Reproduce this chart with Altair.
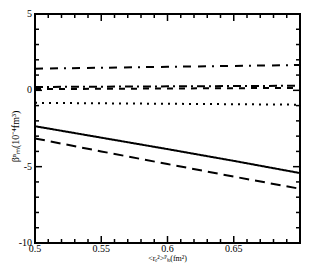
import altair as alt
import pandas as pd

# ---- data ----
x_vals = [0.5, 0.55, 0.6, 0.65, 0.7]
solid = [-2.35, -3.1, -3.85, -4.62, -5.42]
dashed = [-3.15, -4.0, -4.83, -5.65, -6.45]
dotted = [-0.82, -0.85, -0.88, -0.91, -0.94]
dashdot_top = [1.42, 1.48, 1.54, 1.6, 1.66]
near0_a = [0.22, 0.24, 0.26, 0.28, 0.3]
near0_b = [0.08, 0.1, 0.12, 0.14, 0.16]

x_major = [0.5, 0.55, 0.6, 0.65, 0.7]
x_minor = [0.51, 0.52, 0.53, 0.54, 0.56, 0.57, 0.58, 0.59, 0.61, 0.62, 0.63, 0.64,
           0.66, 0.67, 0.68, 0.69]
y_major = [-10, -5, 0, 5]
y_minor = [-9, -8, -7, -6, -4, -3, -2, -1, 1, 2, 3, 4]
x_label_vals = [0.5, 0.55, 0.6, 0.65]
x_label_text = ["0.5", "0.55", "0.6", "0.65"]
y_label_vals = [-10, -5, 0, 5]
y_label_text = ["-10", "-5", "0", "5"]
x_title = "<rₑ²>ᴾₗₒ(fm²)"
y_title = "βⁿₘ(10⁻⁴fm³)"
x_edges = [0.5, 0.7]
y_edges = [-10, 5]

series_names = ["solid", "dashed", "dotted", "dashdot_top", "near0_a", "near0_b"]
series_vals = [solid, dashed, dotted, dashdot_top, near0_a, near0_b]
series_dash = [[1, 0], [10, 6], [2, 5], [8, 7, 8, 6, 2, 6], [8, 4, 2, 4], [6, 6]]

W, H = 265, 229
FONT = "Liberation Serif"

xscale = alt.Scale(domain=x_edges, nice=False, zero=False)
yscale = alt.Scale(domain=y_edges, nice=False, zero=False)

rows = []
for name, vals in zip(series_names, series_vals):
    for xv, yv in zip(x_vals, vals):
        rows.append({"x": xv, "y": yv, "s": name})
df = pd.DataFrame(rows)

lines = alt.Chart(df).mark_line(color="black", strokeWidth=2).encode(
    x=alt.X("x:Q", scale=xscale, axis=None),
    y=alt.Y("y:Q", scale=yscale, axis=None),
    strokeDash=alt.StrokeDash("s:N", scale=alt.Scale(domain=series_names, range=series_dash),
                              legend=None),
    detail="s:N",
)

MAJ, MIN = 7, 4  # tick lengths in pixels
xu = (x_edges[1] - x_edges[0]) / W   # data units per pixel
yu = (y_edges[1] - y_edges[0]) / H


def xticks(vals, L):
    d = pd.DataFrame({"t": vals})
    out = []
    for edge, sign in [(y_edges[0], 1), (y_edges[1], -1)]:
        out.append(alt.Chart(d).mark_rule(color="black", strokeWidth=1.5).encode(
            x=alt.X("t:Q", scale=xscale, axis=None),
            y=alt.Y(datum=edge, scale=yscale, axis=None),
            y2=alt.Y2(datum=edge + sign * L * yu)))
    return out


def yticks(vals, L):
    d = pd.DataFrame({"t": vals})
    out = []
    for edge, sign in [(x_edges[0], 1), (x_edges[1], -1)]:
        out.append(alt.Chart(d).mark_rule(color="black", strokeWidth=1.5).encode(
            y=alt.Y("t:Q", scale=yscale, axis=None),
            x=alt.X(datum=edge, scale=xscale, axis=None),
            x2=alt.X2(datum=edge + sign * L * xu)))
    return out


tick_layers = xticks(x_major, MAJ) + xticks(x_minor, MIN) + yticks(y_major, MAJ) + yticks(y_minor, MIN)

# tick labels and titles as text marks (axes themselves are switched off)
xl = alt.Chart(pd.DataFrame({"v": x_label_vals, "t": x_label_text})).mark_text(
    font=FONT, fontSize=10, color="black", baseline="top", align="center").encode(
    x=alt.X("v:Q", scale=xscale, axis=None), y=alt.value(H + 1), text="t:N")
yl = alt.Chart(pd.DataFrame({"v": y_label_vals, "t": y_label_text})).mark_text(
    font=FONT, fontSize=10, color="black", baseline="middle", align="right").encode(
    y=alt.Y("v:Q", scale=yscale, axis=None), x=alt.value(-3), text="t:N")
xt = alt.Chart(pd.DataFrame({"t": [x_title]})).mark_text(
    font=FONT, fontSize=8, color="black", baseline="bottom", align="center").encode(
    x=alt.value(W / 2), y=alt.value(H + 20), text="t:N")
yt = alt.Chart(pd.DataFrame({"t": [y_title]})).mark_text(
    font=FONT, fontSize=10, color="black", baseline="middle", align="center", angle=270).encode(
    x=alt.value(-19), y=alt.value(H / 2 + 8), text="t:N")

chart = alt.layer(lines, *tick_layers, xl, yl, xt, yt).properties(
    width=W, height=H,
    background="white",
    autosize=alt.AutoSizeParams(type="none"),
    padding={"left": 27, "top": 6, "right": 1, "bottom": 20},
).configure_view(stroke="black", strokeWidth=2)

chart.save("out.html", embed_options={"renderer": "svg", "actions": False})
